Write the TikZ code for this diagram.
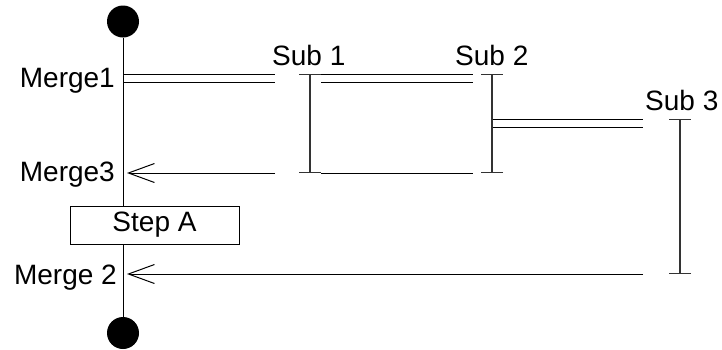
\documentclass[tikz,border=0pt]{standalone}
\usepackage{fontspec}
\setmainfont{Liberation Sans}
\usetikzlibrary{arrows.meta}
\tikzset{
  dot/.style={shape=circle,fill=black,minimum size=32pt,inner sep=0pt},
  stepbox/.style={shape=rectangle,draw=black,fill=white,line width=1pt,minimum width=169pt,minimum height=38pt,inner sep=0pt},
  lbl/.style={inner sep=0pt},
  merge/.style={double,double distance=7pt,line width=1pt},
  subbar/.style={line width=1.2pt,draw=black!80,{Bar[width=22pt]}-{Bar[width=22pt]}},
  back/.style={line width=1pt,-{Straight Barb[length=26pt,width=19pt]},shorten >=4pt},
}
\begin{document}
\begin{tikzpicture}[x=10pt,y=-10pt,font=\fontsize{28}{34}\selectfont]
\useasboundingbox (0,0) rectangle (72.2,34.9);
% main flow
\node (start) at (12.3,2.15) [dot] {};
\node (end) at (12.3,33.3) [dot] {};
\draw[line width=1pt] (start) -- (end);
\node (stepA) at (15.45,22.5) [stepbox] {Step A};
\coordinate (m1) at (12.3,7.8);
\coordinate (m3) at (12.3,17.3);
\coordinate (m2) at (12.3,27.4);
\node (merge1) at (11.5,8.7) [lbl,anchor=base east] {Merge1};
\node (merge3) at (11.5,18.1) [lbl,anchor=base east] {Merge3};
\node (merge2) at (11.7,28.4) [lbl,anchor=base east] {Merge 2};
% sub flows
\coordinate (s1t) at (31.0,7.4);
\coordinate (s1b) at (31.0,17.3);
\coordinate (s2t) at (49.2,7.4);
\coordinate (s2b) at (49.2,17.3);
\coordinate (s2m) at (49.2,12.3);
\coordinate (s3t) at (68.0,11.9);
\coordinate (s3b) at (68.0,27.4);
\node (sub1) at (27.2,6.5) [lbl,anchor=base west] {Sub 1};
\node (sub2) at (45.5,6.5) [lbl,anchor=base west] {Sub 2};
\node (sub3) at (64.5,11.0) [lbl,anchor=base west] {Sub 3};
\draw[subbar] (s1t) -- (s1b);
\draw[subbar] (s2t) -- (s2b);
\draw[subbar] (s3t) -- (s3b);
% forks
\coordinate (s1in) at (27.5,7.8);
\coordinate (s1out) at (32.1,7.8);
\coordinate (s2in) at (47.3,7.8);
\coordinate (s3in) at (64.3,12.3);
\draw[merge,shorten <=0.6pt] (m1) -- (s1in);
\draw[merge] (s1out) -- (s2in);
\draw[merge,shorten <=0.7pt] (s2m) -- (s3in);
% joins
\coordinate (j1) at (27.5,17.3);
\coordinate (j1out) at (32.1,17.3);
\coordinate (j2in) at (47.3,17.3);
\coordinate (j3) at (64.3,27.4);
\draw[line width=1pt] (j1out) -- (j2in);
\draw[back] (j1) -- (m3);
\draw[back] (j3) -- (m2);
\end{tikzpicture}
\end{document}
